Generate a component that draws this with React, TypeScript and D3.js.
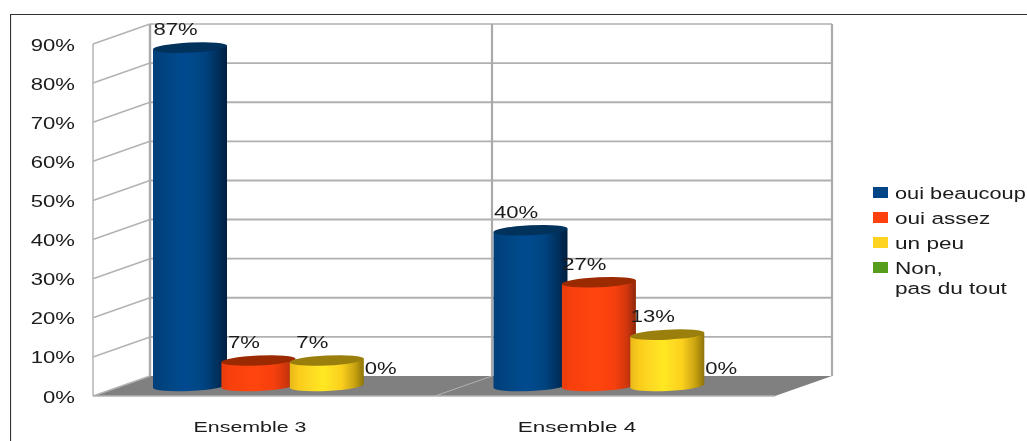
import React from "react";
import * as d3 from "d3";

const categories = ["Ensemble 3", "Ensemble 4"];
const seriesNames = ["oui beaucoup", "oui assez", "un peu", "Non,\npas du tout"];
const ouiBeaucoup = [86.7, 40];
const ouiAssez = [6.7, 26.7];
const unPeu = [6.7, 13.3];
const nonPasDuTout = [0, 0];
const seriesValues = [ouiBeaucoup, ouiAssez, unPeu, nonPasDuTout];
const yTicks = [0, 10, 20, 30, 40, 50, 60, 70, 80, 90];

const legendColors = ["#004586", "#ff420e", "#ffd320", "#579d1c"];
const topColors = ["#00305c", "#9c2a04", "#9a7f10", "#3a6a12"];
const stops = [
  [["0", "#003f7a"], [".12", "#00437f"], [".45", "#004b90"], [".7", "#00437f"], [".88", "#002f5c"], ["1", "#001f40"]],
  [["0", "#e83c0c"], [".12", "#f8400e"], [".45", "#ff4510"], [".7", "#f8400e"], [".88", "#d0360a"], ["1", "#8c2806"]],
  [["0", "#e8b818"], [".12", "#fbcc1e"], [".45", "#ffe824"], [".7", "#fbd01e"], [".88", "#c8a210"], ["1", "#8c7408"]],
  [["0", "#4a8a18"], [".5", "#579d1c"], ["1", "#2a5a10"]],
];

const W = 1027, H = 441;
const DX = 57, DY = 20;
const FX = 93, BX = 150, BR = 832, FR = 775;
const RX = 37, RY = 5, TILT = 1.8;
const TEXT = "#1a1a1a";
const FONT = "'Liberation Sans', Arial, sans-serif";

const y = d3.scaleLinear().domain([0, 90]).range([396, 44]);
const x0 = d3.scaleBand<string>().domain(categories).range([151, 832]);
const x1 = d3.scaleBand<number>().domain(d3.range(4)).range([2, 2 + 68.4 * 4]);
const xLabel = d3.scaleBand<string>().domain(categories).range([86.5, 740.5]);
const fmt = (v: number) => d3.format(".0f")(v) + "%";

function T({ x, y: ty, s, size = 17, sx = 1.3, anchor = "start" }: any) {
  return (
    <text
      transform={`translate(${x},${ty}) scale(${sx},1)`}
      textAnchor={anchor}
      fontFamily={FONT}
      fontSize={size}
      fill={TEXT}
    >
      {s}
    </text>
  );
}

function Cylinder({ cx, top, base, i }: any) {
  const body = `M${cx - RX},${top + TILT}L${cx - RX},${base + TILT}A${RX},${RY} -2.8 0 0 ${cx + RX},${base - TILT}L${cx + RX},${top - TILT}Z`;
  return (
    <g>
      <path d={body} fill={`url(#grad${i})`} />
      <ellipse cx={cx} cy={top} rx={RX + 0.1} ry={RY} fill={topColors[i]} transform={`rotate(-2.8 ${cx} ${top})`} />
    </g>
  );
}

export default function App() {
  const bars = categories.flatMap((c, ci) =>
    seriesValues.map((vals, si) => ({
      si,
      v: vals[ci],
      cx: (x0(c) as number) + (x1(si) as number) + RX,
    }))
  );
  const floorTick = (x0(categories[1]) as number) + 0.5;
  return (
    <svg
      width={W}
      height={H}
      viewBox={`0 0 ${W} ${H}`}
      style={{ position: "absolute", left: 0, top: 0, background: "#fff" }}
    >
      <defs>
        {stops.map((st, i) => (
          <linearGradient key={i} id={`grad${i}`} x1="0" x2="1" y1="0" y2="0">
            {st.map(([o, c]) => (
              <stop key={o} offset={o} stopColor={c} />
            ))}
          </linearGradient>
        ))}
        <filter id="soft" x="0" y="0" width="100%" height="100%">
          <feGaussianBlur stdDeviation="0.4" />
        </filter>
      </defs>

      <g filter="url(#soft)">
        <path d={`M${W},14.5H10.5V${H}`} fill="none" stroke="#303030" strokeWidth={1.2} />

        {/* floor */}
        <path
          d={`M${FX},${y(0)}L${BX},${y(0) - DY}L${BR},${y(0) - DY}L${FR},${y(0)}Z`}
          fill="#808080"
        />
        <path d={`M${FX},${y(0)}H${FR}`} stroke="#b3b3b3" strokeWidth={1.5} />
        <path
          d={`M${floorTick - DX},${y(0)}L${floorTick},${y(0) - DY}`}
          stroke="#b3b3b3"
          strokeWidth={1}
        />

        {/* walls */}
        {yTicks.map((t) => (
          <g key={t}>
            <path d={`M${FX},${y(t)}L${BX},${y(t) - DY}`} stroke="#b3b3b3" strokeWidth={1.6} fill="none" />
            {t > 0 && <path d={`M${BX},${y(t) - DY}H${BR}`} stroke="#b0b0b0" strokeWidth={t === 90 ? 1.4 : 1.9} />}
          </g>
        ))}
        <path d={`M${FX},${y(0)}V${y(90)}`} stroke="#b3b3b3" strokeWidth={1.5} />
        <path d={`M${BX},${y(0) - DY}V${y(90) - DY}`} stroke="#aaaaaa" strokeWidth={2.4} />
        <path d={`M${floorTick},${y(0) - DY}V${y(90) - DY}`} stroke="#aaaaaa" strokeWidth={2.2} />
        <path d={`M${BR},${y(0) - DY}V${y(90) - DY}`} stroke="#aaaaaa" strokeWidth={2.2} />

        {/* axis labels */}
        {yTicks.map((t) => (
          <T key={t} x={75} y={y(t) + 6.5} s={`${t}%`} anchor="end" />
        ))}
        {categories.map((c, i) => (
          <T
            key={c}
            x={(xLabel(c) as number) + xLabel.bandwidth() / 2}
            y={431.5}
            s={c}
            anchor="middle"
            size={15.5}
            sx={i === 0 ? 1.38 : 1.45}
          />
        ))}

        {/* cylinders */}
        {bars
          .filter((b) => b.v > 0)
          .map((b, k) => (
            <Cylinder key={k} cx={b.cx} top={y(b.v) - DY / 2 + 0.7} base={y(0) - DY / 2} i={b.si} />
          ))}

        {/* data labels */}
        {bars.map((b, k) => (
          <T key={k} x={b.cx - 14.5} y={y(b.v) - DY / 2 - 12} s={fmt(b.v)} anchor="middle" />
        ))}

        {/* legend */}
        {seriesNames.map((name, i) => {
          const rowY = 187 + i * 25;
          return (
            <g key={name}>
              <rect x={873} y={rowY} width={15} height={11} fill={legendColors[i]} />
              {name.split("\n").map((line, j) => (
                <T key={line} x={895} y={rowY + 11.5 + j * 20} s={line} size={16.5} sx={i === 0 ? 1.32 : 1.37} />
              ))}
            </g>
          );
        })}
      </g>
    </svg>
  );
}
